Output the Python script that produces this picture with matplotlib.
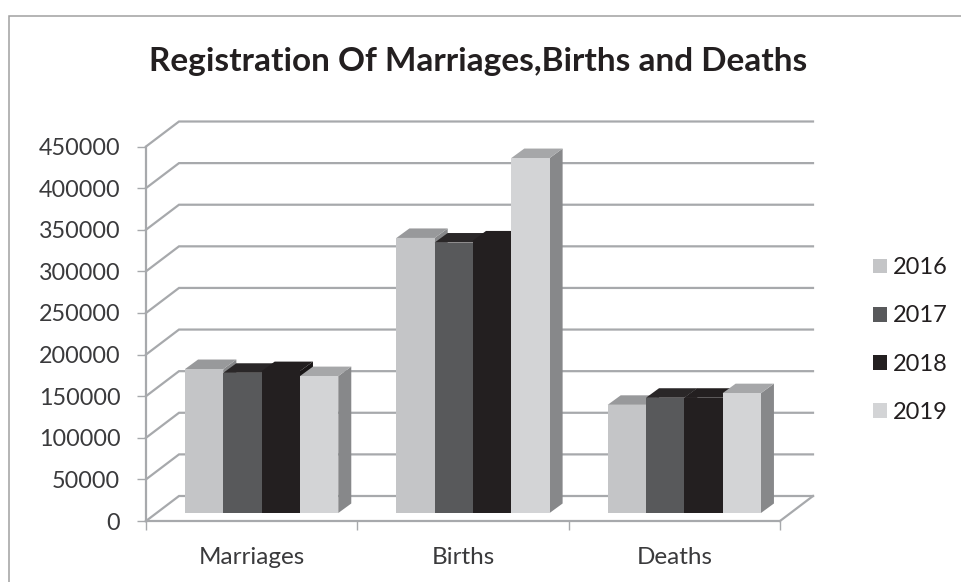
import matplotlib
matplotlib.use('Agg')
from matplotlib import pyplot as plt
from matplotlib.lines import Line2D

plt.rcParams['font.family'] = ['Lato', 'DejaVu Sans']

W, H = 962, 582

categories = ['Marriages', 'Births', 'Deaths']
years = ['2016', '2017', '2018', '2019']
v2016 = [173000, 330500, 130000]
v2017 = [168500, 325000, 138500]
v2018 = [170500, 327500, 138500]
v2019 = [164500, 426500, 144000]
series = [v2016, v2017, v2018, v2019]

front = ['#c4c5c7', '#58595b', '#231f20', '#d3d4d6']
top = ['#98999b', '#2a2728', '#231f20', '#a6a7a9']
side = ['#87888a', '#3a3839', '#1a1718', '#87888a']
grid = '#a7a9ac'
ymax = 450000
yticks = list(range(0, ymax + 1, 50000))

fig = plt.figure(figsize=(W / 100, H / 100), dpi=100)
# axes box = front plane of the excel 3d chart
ax = fig.add_axes([146 / W, 1 - 521 / H, 634 / W, 374.5 / H])
ax.set_xlim(0, 3)
ax.set_ylim(0, ymax)
ax.patch.set_visible(False)

# one pixel in data units
px = 3 / 634
py = ymax / 374.5

# back wall and floor
wall_x = 33 * px
wall_y = 25 * py
for t in yticks:
    ax.plot([0, wall_x, 3 + wall_x], [t, t + wall_y, t + wall_y], color=grid, lw=1.6,
            clip_on=False, zorder=1, solid_joinstyle='miter')
ax.plot([3, 3 + wall_x], [0, wall_y], color=grid, lw=1.6, clip_on=False, zorder=1)

# bars, drawn left to right so each one hides the side of the one before
bar_w = 38.3 / 211.3
off_x = 10 * px
off_y = 8 * py
dep_x = 13 * px
dep_y = 9.5 * py
z = 3
for i, vals in enumerate(series):
    xs = [k + 0.5 + off_x + (i - 1.5) * bar_w for k in range(3)]
    for x, v in zip(xs, vals):
        l, r = x - bar_w / 2, x + bar_w / 2
        t = v + off_y
        ax.fill([r, r + dep_x, r + dep_x, r], [off_y, off_y + dep_y, t + dep_y, t],
                fc=side[i], ec='none', clip_on=False, zorder=z)
        ax.fill([l, l + dep_x, r + dep_x, r], [t, t + dep_y, t + dep_y, t],
                fc=top[i], ec='none', clip_on=False, zorder=z)
        ax.bar(x, v, bar_w, bottom=off_y, color=front[i], clip_on=False, zorder=z + 0.5)
        z += 1
    ax.bar(0, 0, 0, color=front[i], label=years[i])

for s in ['top', 'right']:
    ax.spines[s].set_visible(False)
for s in ['left', 'bottom']:
    ax.spines[s].set_color(grid)
    ax.spines[s].set_linewidth(1.6)
    ax.spines[s].set_zorder(2)

ax.set_yticks(yticks)
ax.set_xticks([0, 1, 2, 3])
ax.set_xticks([0.5, 1.5, 2.5], minor=True)
ax.set_xticklabels([])
ax.set_xticklabels(categories, minor=True)
ax.tick_params(axis='x', which='major', length=6.5, width=1, color=grid)
ax.tick_params(axis='x', which='minor', length=0, pad=19, labelsize=17.5, labelcolor='#3a3a3c')
ax.tick_params(axis='y', length=6.5, width=1, color=grid, pad=12, labelsize=16.8, labelcolor='#3a3a3c')

fig.text(478 / W, 1 - 62 / H, 'Registration Of Marriages,Births and Deaths', ha='center', va='center',
         fontsize=24, fontweight='bold', color='#231f20')

# legend
fig.legend(*ax.get_legend_handles_labels(), loc='center left', bbox_to_anchor=(873 / W, 1 - 340 / H),
           frameon=False, fontsize=17, handlelength=0.59, handleheight=0.59, handletextpad=0.27,
           labelspacing=1.15, labelcolor='#231f20', borderpad=0, borderaxespad=0)

# chart frame, only top and left edges are inside the picture
fig.add_artist(Line2D([9 / W, 9 / W, 1], [0, 1 - 15.5 / H, 1 - 15.5 / H], transform=fig.transFigure,
                      color='#a0a0a0', lw=1.1, solid_joinstyle='miter'))

fig.savefig('out.png', dpi=100)
